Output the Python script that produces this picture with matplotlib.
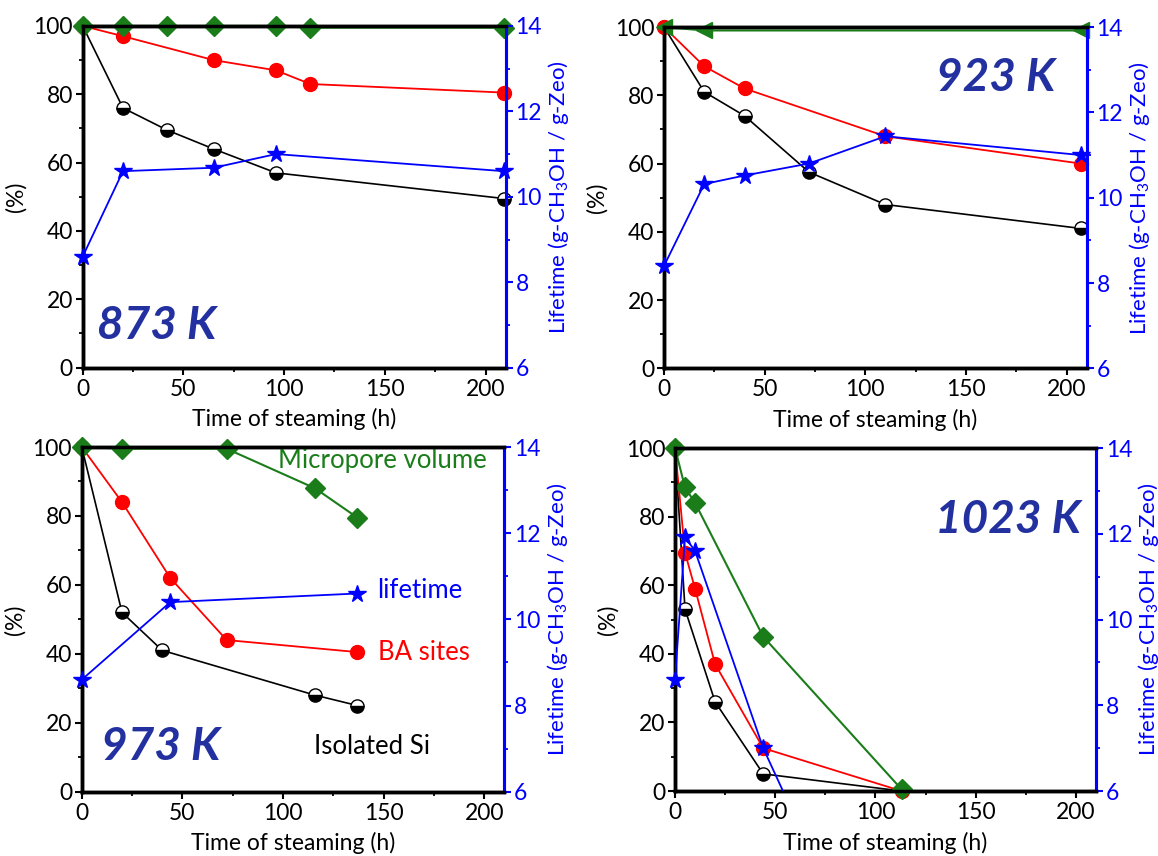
import matplotlib
matplotlib.use("Agg")
import matplotlib.pyplot as plt
from matplotlib.ticker import MultipleLocator

plt.rcParams['font.family'] = ['Lato', 'DejaVu Sans']
plt.rcParams['mathtext.fontset'] = 'custom'
plt.rcParams['mathtext.rm'] = 'Lato'
plt.rcParams['mathtext.default'] = 'regular'

# ---- data -------------------------------------------------------------
temps = ["873 K", "923 K", "973 K", "1023 K"]

# 873 K
si_x_873 = [0, 20, 42, 65, 96, 209]
si_y_873 = [100, 76, 69.5, 64, 57, 49.5]
ba_x_873 = [0, 20, 65, 96, 113, 209]
ba_y_873 = [100, 97, 90, 87, 83, 80.5]
mp_x_873 = [0, 20, 42, 65, 96, 113, 209]
mp_y_873 = [100, 100, 100, 100, 100, 99.5, 99.5]
lt_x_873 = [0, 20, 65, 96, 209]
lt_y_873 = [8.6, 10.6, 10.68, 11.0, 10.6]

# 923 K
si_x_923 = [0, 20, 40, 72, 110, 207]
si_y_923 = [100, 81, 74, 57.5, 48, 41]
ba_x_923 = [0, 20, 40, 110, 207]
ba_y_923 = [100, 88.5, 82, 68, 60]
mp_x_923 = [0, 20, 207]
mp_y_923 = [100, 99, 99]
lt_x_923 = [0, 20, 40, 72, 110, 207]
lt_y_923 = [8.4, 10.32, 10.52, 10.8, 11.44, 11.0]

# 973 K
si_x_973 = [0, 20, 40, 116, 137]
si_y_973 = [100, 52, 41, 28, 25]
ba_x_973 = [0, 20, 44, 72, 137]
ba_y_973 = [100, 84, 62, 44, 40.5]
mp_x_973 = [0, 20, 72, 116, 137]
mp_y_973 = [100, 99.5, 99.5, 88, 79.5]
lt_x_973 = [0, 44, 137]
lt_y_973 = [8.6, 10.4, 10.6]

# 1023 K
si_x_1023 = [0, 5, 20, 44, 113]
si_y_1023 = [100, 53, 26, 5, 0]
ba_x_1023 = [0, 5, 10, 20, 44, 113]
ba_y_1023 = [100, 69.5, 59, 37, 12.5, 0]
mp_x_1023 = [0, 5, 10, 44, 113]
mp_y_1023 = [100, 88.5, 84, 45, 0.5]
lt_x_1023 = [0, 5, 10, 44, 113]
lt_y_1023 = [8.6, 11.92, 11.6, 7.0, 0.0]

panels = [
    (si_x_873, si_y_873, ba_x_873, ba_y_873, mp_x_873, mp_y_873, lt_x_873, lt_y_873),
    (si_x_923, si_y_923, ba_x_923, ba_y_923, mp_x_923, mp_y_923, lt_x_923, lt_y_923),
    (si_x_973, si_y_973, ba_x_973, ba_y_973, mp_x_973, mp_y_973, lt_x_973, lt_y_973),
    (si_x_1023, si_y_1023, ba_x_1023, ba_y_1023, mp_x_1023, mp_y_1023, lt_x_1023, lt_y_1023),
]
mp_markers = ['D', '<', 'D', 'D']

# ---- styling ----------------------------------------------------------
GREEN = '#1a7d1a'
RED = '#ff0000'
BLUE = '#0000ff'
NAVY = '#2330a0'
FS = 16.5

positions = [
    [0.0714, 0.5705, 0.3653, 0.3992],
    [0.5734, 0.5697, 0.3650, 0.3987],
    [0.0706, 0.0751, 0.3649, 0.4027],
    [0.5829, 0.0759, 0.3636, 0.4007],
]
temp_pos = [(0.035, 0.06, 'left'), (0.925, 0.79, 'right'),
            (0.045, 0.07, 'left'), (0.965, 0.73, 'right')]

fig = plt.figure(figsize=(11.58, 8.56), dpi=100)

for i, (pos, data) in enumerate(zip(positions, panels)):
    sx, sy, bx, by, mx, my, lx, ly = data
    ax = fig.add_axes(pos)
    ax2 = ax.twinx()

    ax.plot(sx, sy, color='black', lw=1.2, marker='o', ms=9.5,
            fillstyle='bottom', markerfacecolor='black',
            markerfacecoloralt='white', markeredgecolor='black',
            markeredgewidth=1.0, clip_on=False, zorder=3)
    ax.plot(bx, by, color=RED, lw=1.3, marker='o', ms=10,
            markerfacecolor=RED, markeredgecolor=RED, clip_on=False, zorder=4)
    ax.plot(mx, my, color=GREEN, lw=1.5, marker=mp_markers[i],
            ms=10 if mp_markers[i] == 'D' else 11,
            markerfacecolor=GREEN, markeredgecolor=GREEN,
            clip_on=False, zorder=5)

    # lifetime: line clipped to the axis range, markers drawn where in range
    ax2.plot(lx, ly, color=BLUE, lw=1.3, zorder=3)
    vis = [(x, y) for x, y in zip(lx, ly) if 6 <= y <= 14]
    ax2.plot([v[0] for v in vis], [v[1] for v in vis], ls='none', marker='*',
             ms=13, color=BLUE, markeredgecolor=BLUE, clip_on=False, zorder=4)

    ax.set_xlim(0, 210)
    ax.set_ylim(0, 100)
    ax2.set_ylim(6, 14)

    ax.xaxis.set_major_locator(MultipleLocator(50))
    ax.xaxis.set_minor_locator(MultipleLocator(25))
    ax.yaxis.set_major_locator(MultipleLocator(20))
    ax.yaxis.set_minor_locator(MultipleLocator(10))
    ax2.yaxis.set_major_locator(MultipleLocator(2))
    ax2.yaxis.set_minor_locator(MultipleLocator(1))

    ax.tick_params(axis='both', which='major', direction='out', length=5,
                   width=1.5, labelsize=FS, colors='black')
    ax.tick_params(axis='both', which='minor', direction='out', length=3,
                   width=1.3, colors='black')
    ax.tick_params(axis='x', pad=3)
    ax.tick_params(axis='y', pad=2)
    ax2.tick_params(axis='y', which='major', direction='out', length=5,
                    width=1.5, labelsize=FS, colors=BLUE, pad=2)
    ax2.tick_params(axis='y', which='minor', direction='out', length=3,
                    width=1.3, colors=BLUE)

    for a in (ax, ax2):
        for s in ('top', 'left', 'bottom'):
            a.spines[s].set_color('black')
            a.spines[s].set_linewidth(2.5)
        a.spines['right'].set_color(BLUE)
        a.spines['right'].set_linewidth(2.2)

    ax.set_xlabel('Time of steaming (h)', fontsize=FS, labelpad=6)
    ax.set_ylabel('(%)', fontsize=FS, labelpad=5)
    ax2.set_ylabel(r'Lifetime (g-CH$_3$OH / g-Zeo)', fontsize=FS - 0.5,
                   color=BLUE, labelpad=3)

    tx, ty, ha = temp_pos[i]
    ax.text(tx, ty, temps[i], transform=ax.transAxes, ha=ha, va='bottom',
            fontsize=33, fontweight='bold', fontstyle='italic', color=NAVY,
            zorder=6)

    if i == 2:
        ax.text(0.465, 0.962, 'Micropore volume', transform=ax.transAxes,
                ha='left', va='center', fontsize=18.5, color=GREEN, zorder=6)
        ax.text(0.70, 0.584, 'lifetime', transform=ax.transAxes,
                ha='left', va='center', fontsize=18.5, color=BLUE, zorder=6)
        ax.text(0.70, 0.403, 'BA sites', transform=ax.transAxes,
                ha='left', va='center', fontsize=18.5, color=RED, zorder=6)
        ax.text(0.55, 0.132, 'Isolated Si', transform=ax.transAxes,
                ha='left', va='center', fontsize=18.5, color='black', zorder=6)

fig.savefig('out.png', dpi=100)
